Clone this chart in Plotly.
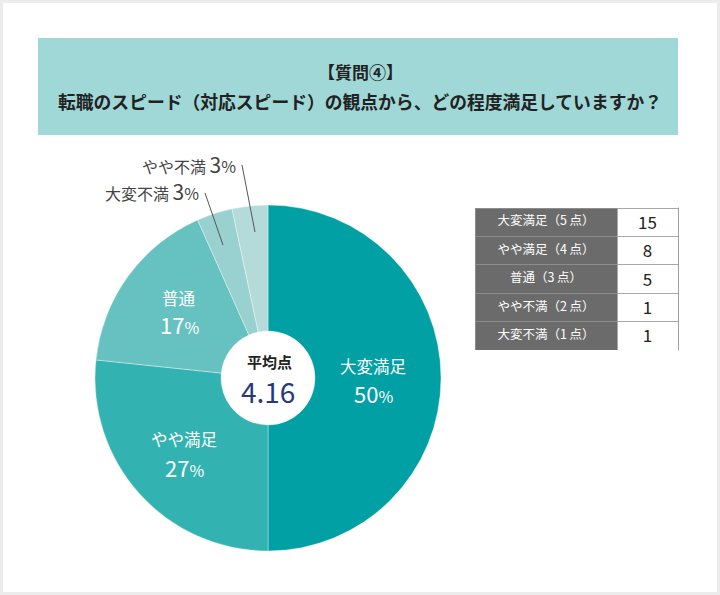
import math
import plotly.graph_objects as go

# ---- data ----
categories = ["大変満足", "やや満足", "普通", "大変不満", "やや不満"]
counts = [15, 8, 5, 1, 1]
slice_colors = ["#00a0a4", "#33b2b2", "#66c2c0", "#99d1d0", "#b4dbda"]
table_labels = ["大変満足（5 点）", "やや満足（4 点）", "普通（3 点）", "やや不満（2 点）", "大変不満（1 点）"]
table_counts = [15, 8, 5, 1, 1]
table_scores = [5, 4, 3, 2, 1]
title_line1 = "【質問④】"
title_line2 = "転職のスピード（対応スピード）の観点から、どの程度満足していますか？"
center_label = "平均点"

W, H = 720, 595
FONT = "Noto Sans CJK JP"


def px(x):
    return x / W


def py(y):
    return 1 - y / H


total = sum(counts)
pcts = [round(c / total * 100) for c in counts]
avg = sum(s * c for s, c in zip(table_scores, table_counts)) / sum(table_counts)
avg_text = f"{math.floor(avg * 100) / 100:.2f}"

fig = go.Figure()

# pie
cx, cy, r = 268, 378, 173
fig.add_trace(go.Pie(
    labels=categories,
    values=counts,
    sort=False,
    direction="clockwise",
    rotation=0,
    hole=47 / 173,
    marker=dict(colors=slice_colors, line=dict(color="rgba(255,255,255,0.6)", width=0.6)),
    textinfo="none",
    hoverinfo="label+percent",
    showlegend=False,
    domain=dict(x=[px(cx - r), px(cx + r)], y=[py(cy + r), py(cy - r)]),
))

# table (first row rendered as header, styled the same)
left_fill = "#6b6b6b"
tx0, tx1, ty0, ty1 = 475, 678, 208, 350
fig.add_trace(go.Table(
    domain=dict(x=[px(tx0), px(tx1)], y=[py(ty1), py(ty0)]),
    columnwidth=[142, 61],
    header=dict(
        values=[table_labels[0], str(table_counts[0])],
        fill_color=[left_fill, "white"],
        line=dict(color=["#8c8c8c", "#a8a8a8"], width=1),
        font=dict(family=FONT, size=[12.5, 17], color=["white", "#222222"]),
        align="center",
        height=28.4,
    ),
    cells=dict(
        values=[table_labels[1:], [str(v) for v in table_counts[1:]]],
        fill_color=[[left_fill] * 4, ["white"] * 4],
        line=dict(color=["#8c8c8c", "#a8a8a8"], width=1),
        font=dict(family=FONT, size=[12.5, 17], color=["white", "#222222"]),
        align="center",
        height=28.4,
    ),
))

shapes = [
    # outer frame
    dict(type="rect", xref="paper", yref="paper", x0=px(1.5), x1=px(718.5), y0=py(593.5), y1=py(1.5),
         line=dict(color="#ececec", width=3), fillcolor="rgba(0,0,0,0)", layer="below"),
    # title box
    dict(type="rect", xref="paper", yref="paper", x0=px(38), x1=px(678), y0=py(135), y1=py(38),
         line=dict(width=0), fillcolor="#a0d8d8", layer="below"),
    # table right border
    dict(type="rect", xref="paper", yref="paper", x0=px(tx1), x1=px(tx1 + 1), y0=py(ty1 + 0.5), y1=py(ty0 - 0.5),
         line=dict(width=0), fillcolor="#a0a0a0", layer="above"),
    # leader lines
    dict(type="line", xref="paper", yref="paper", x0=px(242), y0=py(165), x1=px(255), y1=py(232),
         line=dict(color="#555555", width=1)),
    dict(type="line", xref="paper", yref="paper", x0=px(205), y0=py(193), x1=px(223), y1=py(245),
         line=dict(color="#555555", width=1)),
]

ann = []


def add_text(text, x, y, size, color, xanchor="center", bold=False):
    if bold:
        text = f"<b>{text}</b>"
    ann.append(dict(text=text, x=px(x), y=py(y), xref="paper", yref="paper", showarrow=False,
                    xanchor=xanchor, yanchor="middle", font=dict(family=FONT, size=size, color=color)))


add_text(title_line1, 360, 71, 17, "#222222", bold=True)
add_text(title_line2, 360, 101, 17.8, "#222222", bold=True)

# inside labels
inside_pos = {0: (373, 366, 393), 1: (184, 439, 467), 2: (179, 298, 324)}
for i, (x, y1, y2) in inside_pos.items():
    add_text(categories[i], x, y1, 16.5, "white")
    add_text(f"<span style='font-size:22px'>{pcts[i]}</span>%", x, y2, 16, "white")

# outside labels
add_text(f"{categories[4]} <span style='font-size:21px'>{pcts[4]}</span>%", 238, 164, 16, "#444444", xanchor="right")
add_text(f"{categories[3]} <span style='font-size:21px'>{pcts[3]}</span>%", 201, 191, 16, "#444444", xanchor="right")

# center
add_text(center_label, 269, 362, 15, "#222222", bold=True)
add_text(avg_text, 268, 391, 28, "#27397a")

fig.update_layout(
    width=W, height=H,
    margin=dict(l=0, r=0, t=0, b=0),
    paper_bgcolor="white",
    plot_bgcolor="white",
    shapes=shapes,
    annotations=ann,
    font=dict(family=FONT),
)

fig.write_html("out.html")
